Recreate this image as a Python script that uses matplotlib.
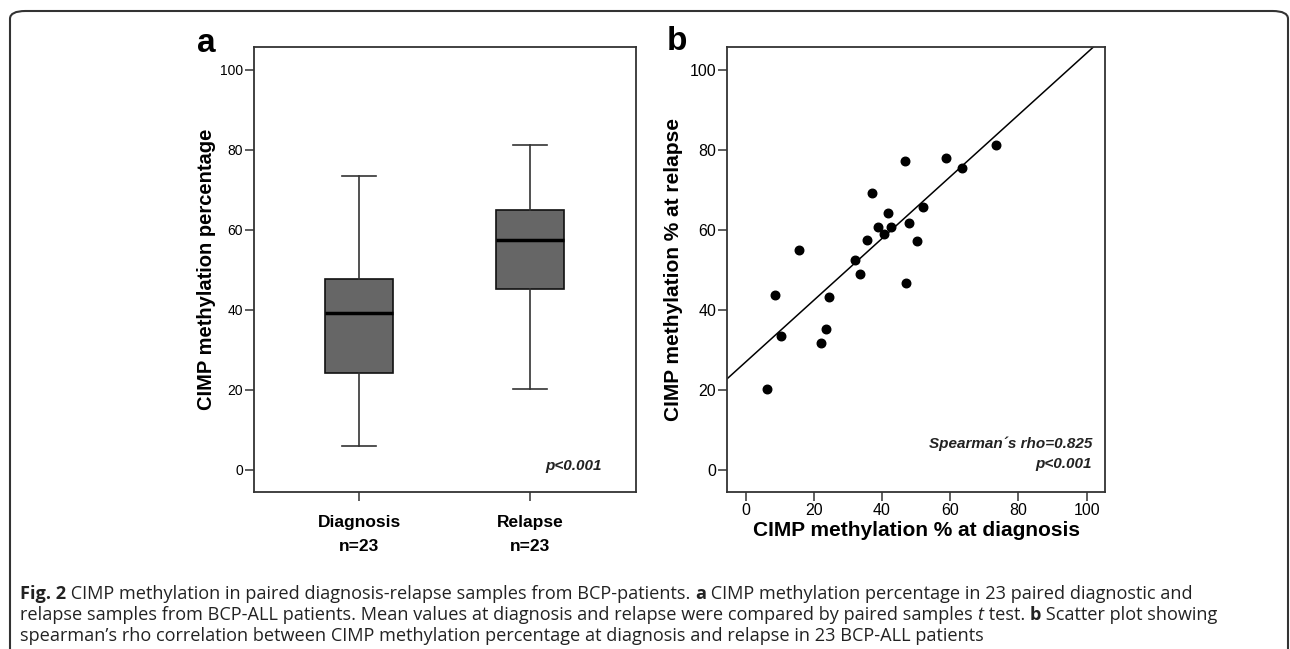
import numpy as np
import matplotlib
matplotlib.use("Agg")
import matplotlib.pyplot as plt
from matplotlib.patches import FancyBboxPatch

# Panel a: box statistics
groups = ["Diagnosis\nn=23", "Relapse\nn=23"]
whisker_low = [6.0, 20.3]
q1 = [24.1, 45.2]
median = [39.1, 57.4]
q3 = [47.7, 64.9]
whisker_high = [73.5, 81.1]

# Panel b: paired values (diagnosis, relapse)
diag = [8.7, 10.35, 15.5, 22.1, 23.5, 24.4, 32.1, 33.5, 35.7, 37.1, 38.9, 40.5,
        41.8, 42.6, 46.8, 47.1, 48.0, 50.2, 52.0, 58.8, 63.4, 73.3, 6.2]
relapse = [43.6, 33.4, 55.0, 31.8, 35.1, 43.1, 52.4, 49.0, 57.4, 69.3, 60.6, 58.9,
           64.1, 60.7, 77.3, 46.8, 61.7, 57.1, 65.8, 78.0, 75.5, 81.1, 20.3]

ticks = [0, 20, 40, 60, 80, 100]

plt.rcParams['font.family'] = ['Liberation Sans', 'DejaVu Sans']
spine_col = '#333333'

fig = plt.figure(figsize=(12.9, 6.49), dpi=100)
W, H = 1290, 649


def ax_rect(l, r, t, b):
    return [l / W, 1 - b / H, (r - l) / W, (b - t) / H]


def style(ax):
    for s in ['top', 'right', 'left', 'bottom']:
        ax.spines[s].set_color(spine_col)
        ax.spines[s].set_linewidth(1.3)
    ax.tick_params(direction='out', length=6.5, width=1.1, color=spine_col)
    ax.tick_params(axis='y', pad=1.5)


# ---- panel a ----
ax1 = fig.add_axes(ax_rect(254, 635.7, 47, 491.7))
stats = []
for i in range(len(groups)):
    stats.append(dict(whislo=whisker_low[i], q1=q1[i], med=median[i],
                      q3=q3[i], whishi=whisker_high[i], fliers=[]))
ax1.bxp(stats, positions=[1, 2], widths=0.40, capwidths=0.2, patch_artist=True,
        showfliers=False,
        boxprops=dict(facecolor='#666666', edgecolor='#111111', linewidth=1.2),
        medianprops=dict(color='black', linewidth=2.5),
        whiskerprops=dict(color='#333333', linewidth=1.2),
        capprops=dict(color='#333333', linewidth=1.2))
ax1.set_xlim(0.385, 2.62)
ax1.set_ylim(-5.5, 105.7)
ax1.set_yticks(ticks)
ax1.set_yticklabels([str(t) for t in ticks], fontsize=10)
ax1.set_xticks([1, 2])
ax1.set_xticklabels(groups, fontsize=12.5, fontweight='bold', linespacing=1.75)
style(ax1)
ax1.tick_params(axis='x', pad=10)
ax1.set_ylabel("CIMP methylation percentage", fontsize=14.5, fontweight='bold', labelpad=3)
ax1.text(0.911, 0.058, "p<0.001", transform=ax1.transAxes, ha='right', va='center',
         fontsize=11, fontweight='bold', fontstyle='italic', color='#222222')

# ---- panel b ----
ax2 = fig.add_axes(ax_rect(727.3, 1105, 47, 491.7))
ax2.scatter(diag, relapse, s=38, color='black', zorder=3)
slope, icpt = np.polyfit(diag, relapse, 1)
ax2.axline((0, icpt), slope=slope, color='black', linewidth=1.1)
ax2.set_xlim(-5.4, 105.4)
ax2.set_ylim(-5.5, 105.7)
ax2.set_xticks(ticks)
ax2.set_yticks(ticks)
ax2.set_xticklabels([str(t) for t in ticks], fontsize=11.5)
ax2.set_yticklabels([str(t) for t in ticks], fontsize=11.5)
style(ax2)
ax2.tick_params(axis='x', pad=1.5)
ax2.set_xlabel("CIMP methylation % at diagnosis", fontsize=15, fontweight='bold', labelpad=2)
ax2.set_ylabel("CIMP methylation % at relapse", fontsize=15, fontweight='bold', labelpad=4.5)
ax2.text(0.9656, 0.107, "Spearman\u00b4s rho=0.825", transform=ax2.transAxes,
         ha='right', va='center', fontsize=11, fontweight='bold', fontstyle='italic',
         color='#222222')
ax2.text(0.9656, 0.062, "p<0.001", transform=ax2.transAxes,
         ha='right', va='center', fontsize=11, fontweight='bold', fontstyle='italic',
         color='#222222')

# panel letters
fig.text(206.7 / W, 1 - 43 / H, "a", fontsize=24, fontweight='bold', ha='center', va='center')
fig.text(677 / W, 1 - 41 / H, "b", fontsize=24, fontweight='bold', ha='center', va='center')

# outer frame
frame = FancyBboxPatch((10 / W, -0.05), (1288 - 10) / W, 1.05 - 11 / H,
                       boxstyle="round,pad=0,rounding_size=0.012",
                       transform=fig.transFigure, fill=False,
                       edgecolor='#333333', linewidth=1.5, clip_on=False)
fig.patches.append(frame)

# caption, drawn piece by piece to mix bold / italic
cap_lines = [
    [("Fig. 2", 'bold', 'normal'),
     (" CIMP methylation in paired diagnosis-relapse samples from BCP-patients. ", 'normal', 'normal'),
     ("a", 'bold', 'normal'),
     (" CIMP methylation percentage in 23 paired diagnostic and", 'normal', 'normal')],
    [("relapse samples from BCP-ALL patients. Mean values at diagnosis and relapse were compared by paired samples ", 'normal', 'normal'),
     ("t", 'normal', 'italic'),
     (" test. ", 'normal', 'normal'),
     ("b", 'bold', 'normal'),
     (" Scatter plot showing", 'normal', 'normal')],
    [("spearman\u2019s rho correlation between CIMP methylation percentage at diagnosis and relapse in 23 BCP-ALL patients", 'normal', 'normal')],
]
cap_y = [594, 615, 636]
renderer = fig.canvas.get_renderer()
for line, yy in zip(cap_lines, cap_y):
    x = 20
    for txt, wt, st in line:
        t = fig.text(x / W, 1 - yy / H, txt, fontsize=13.1, fontweight=wt, fontstyle=st,
                     family=['Open Sans', 'DejaVu Sans'], ha='left', va='center', color='#222222')
        bb = t.get_window_extent(renderer=renderer)
        x += bb.width

fig.savefig("out.png", dpi=100)
